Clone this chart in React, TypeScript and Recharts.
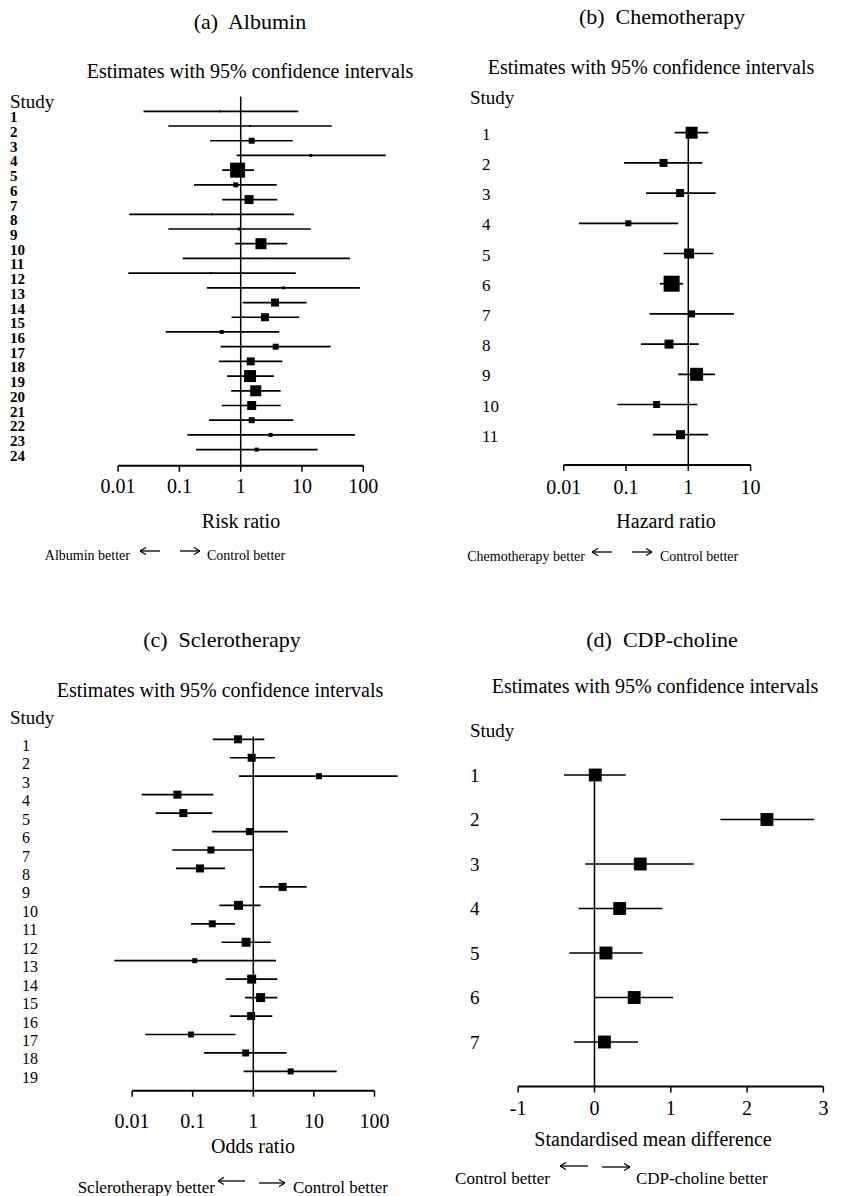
import React from "react";
import { ScatterChart, Scatter, XAxis, YAxis, ErrorBar, ReferenceLine } from "recharts";

const SERIF = "'Liberation Serif', 'Times New Roman', serif";

// (a) Albumin: risk ratios
const albuminStudies = [1, 2, 3, 4, 5, 6, 7, 8, 9, 10, 11, 12, 13, 14, 15, 16, 17, 18, 19, 20, 21, 22, 23, 24];
const albuminEst = [0.46, 1.42, 1.51, 13.9, 0.89, 0.83, 1.37, 0.34, 0.95, 2.14, 2.5, 0.33, 4.97, 3.63, 2.49, 0.49, 3.72, 1.46, 1.42, 1.76, 1.51, 1.51, 3.08, 1.82];
const albuminLow = [0.026, 0.066, 0.316, 0.86, 0.5, 0.173, 0.5, 0.0152, 0.066, 0.81, 0.113, 0.0147, 0.28, 1.08, 0.71, 0.06, 0.47, 0.44, 0.6, 0.7, 0.49, 0.304, 0.135, 0.187];
const albuminHigh = [8.7, 30.5, 7.05, 232, 1.65, 3.87, 3.95, 7.4, 13.9, 5.75, 60.8, 7.9, 88, 11.9, 9.0, 4.27, 29.4, 4.78, 3.49, 4.49, 4.49, 7.2, 73, 18];
const albuminWeight = [0.3, 0.3, 2.9, 0.7, 18.4, 2.0, 6.6, 0.3, 0.7, 9.9, 0.1, 0.3, 0.7, 5.2, 5.2, 1.3, 2.9, 5.2, 11.8, 9.9, 6.6, 2.9, 1.3, 1.3];

// (b) Chemotherapy: hazard ratios
const chemoStudies = [1, 2, 3, 4, 5, 6, 7, 8, 9, 10, 11];
const chemoEst = [1.13, 0.4, 0.74, 0.109, 1.03, 0.54, 1.13, 0.49, 1.36, 0.31, 0.75];
const chemoLow = [0.6, 0.093, 0.21, 0.0176, 0.4, 0.35, 0.24, 0.174, 0.69, 0.073, 0.27];
const chemoHigh = [2.09, 1.68, 2.75, 0.69, 2.52, 0.83, 5.4, 1.47, 2.68, 1.4, 2.09];
const chemoWeight = [13.2, 5.9, 5.9, 3.3, 9.2, 23.5, 4.5, 7.4, 15.5, 4.5, 7.4];

// (c) Sclerotherapy: odds ratios
const scleroStudies = [1, 2, 3, 4, 5, 6, 7, 8, 9, 10, 11, 12, 13, 14, 15, 16, 17, 18, 19];
const scleroEst = [0.56, 0.94, 12.1, 0.056, 0.07, 0.86, 0.2, 0.132, 3.05, 0.57, 0.21, 0.76, 0.108, 0.94, 1.32, 0.92, 0.094, 0.75, 4.14];
const scleroLow = [0.214, 0.41, 0.58, 0.0144, 0.0245, 0.209, 0.046, 0.053, 1.26, 0.275, 0.094, 0.3, 0.0051, 0.35, 0.73, 0.41, 0.0165, 0.153, 0.69];
const scleroHigh = [1.52, 2.28, 241, 0.219, 0.211, 3.69, 1.0, 0.341, 7.6, 1.32, 0.5, 1.96, 2.37, 2.49, 2.49, 2.06, 0.51, 3.55, 23.8];
const scleroWeight = [5.9, 5.9, 3.3, 5.9, 5.9, 4.5, 4.5, 5.9, 5.9, 7.4, 4.5, 7.4, 2.3, 7.4, 7.4, 5.9, 3.3, 4.5, 3.3];

// (d) CDP-choline: standardised mean differences
const cdpStudies = [1, 2, 3, 4, 5, 6, 7];
const cdpEst = [0.01, 2.26, 0.6, 0.33, 0.15, 0.52, 0.13];
const cdpLow = [-0.4, 1.65, -0.12, -0.21, -0.33, 0.0, -0.27];
const cdpHigh = [0.41, 2.88, 1.3, 0.89, 0.63, 1.03, 0.57];
const cdpWeight = [14.3, 14.3, 14.3, 14.3, 14.3, 14.3, 14.3];

const ratioTicks = [0.01, 0.1, 1, 10, 100];
const chemoTicks = [0.01, 0.1, 1, 10];
const smdTicks = [-1, 0, 1, 2, 3];

type Row = { row: number; est: number; err: [number, number]; w: number };

function buildRows(studies: number[], est: number[], low: number[], high: number[], w: number[]): Row[] {
  return studies.map((s, i) => ({ row: s, est: est[i], err: [est[i] - low[i], high[i] - est[i]], w: w[i] }));
}

interface PanelProps {
  left: number;
  top: number;
  width: number;
  height: number;
  rows: Row[];
  log: boolean;
  domain: [number, number];
  ticks: number[];
  refValue: number;
  refPx: number;
  unitPx: number;
  row0Px: number;
  rowPx: number;
  yMax: number;
  lineFrom: number;
  labelX: number;
  labelDy: number;
  labelSize: number;
  labelBold?: boolean;
  tickGap: number;
  markerK: number;
}

function ForestPanel(p: PanelProps) {
  const f = (v: number) => (p.log ? Math.log10(v) : v);
  const plotL = p.refPx + p.unitPx * (f(p.domain[0]) - f(p.refValue));
  const plotR = p.refPx + p.unitPx * (f(p.domain[1]) - f(p.refValue));
  const plotB = p.row0Px + p.yMax * p.rowPx;
  const axisH = 30;
  const yAxisW = 1;
  const margin = {
    left: plotL - p.left - yAxisW,
    right: p.left + p.width - plotR,
    top: p.row0Px - p.top,
    bottom: p.top + p.height - plotB - axisH,
  };

  const studyTick = (props: any) => (
    <text
      x={p.labelX - p.left}
      y={props.y + p.labelDy}
      dominantBaseline="central"
      fontSize={p.labelSize}
      fontFamily={SERIF}
      fontWeight={p.labelBold ? "bold" : "normal"}
      fill="#000"
    >
      {props.payload.value}
    </text>
  );

  const square = (props: any) => {
    const s = p.markerK * Math.sqrt(props.payload.w);
    return <rect x={props.cx - s / 2} y={props.cy - s / 2} width={s} height={s} fill="#000" />;
  };

  return (
    <div style={{ position: "absolute", left: p.left, top: p.top }}>
      <ScatterChart width={p.width} height={p.height} margin={margin}>
        <XAxis
          type="number"
          dataKey="est"
          scale={p.log ? "log" : "linear"}
          domain={p.domain}
          ticks={p.ticks}
          interval={0}
          axisLine={false}
          tickLine={{ stroke: "#000", strokeWidth: 1.5 }}
          tickSize={6}
          tickMargin={p.tickGap}
          height={axisH}
          tick={{ fill: "#000", fontSize: 20, fontFamily: SERIF }}
        />
        <YAxis
          type="number"
          dataKey="row"
          domain={[0, p.yMax]}
          reversed
          ticks={p.rows.map((r) => r.row)}
          interval={0}
          width={yAxisW}
          axisLine={false}
          tickLine={false}
          tick={studyTick}
        />
        <ReferenceLine
          segment={[
            { x: p.refValue, y: p.lineFrom },
            { x: p.refValue, y: p.yMax },
          ]}
          stroke="#000"
          strokeWidth={1.5}
          ifOverflow="visible"
        />
        <ReferenceLine
          segment={[
            { x: p.ticks[0], y: p.yMax },
            { x: p.ticks[p.ticks.length - 1], y: p.yMax },
          ]}
          stroke="#000"
          strokeWidth={2}
          ifOverflow="visible"
        />
        <Scatter data={p.rows} shape={square} isAnimationActive={false}>
          <ErrorBar dataKey="err" direction="x" width={0} stroke="#000" strokeWidth={1.7} />
        </Scatter>
      </ScatterChart>
    </div>
  );
}

function Label({ x, y, size, children, align = "middle" }: { x: number; y: number; size: number; children: React.ReactNode; align?: "start" | "middle" | "end" }) {
  const tx = align === "middle" ? "-50%" : align === "end" ? "-100%" : "0";
  return (
    <div
      style={{
        position: "absolute",
        left: x,
        top: y,
        transform: `translate(${tx}, -50%)`,
        fontFamily: SERIF,
        fontSize: size,
        lineHeight: 1,
        whiteSpace: "pre",
        color: "#000",
      }}
    >
      {children}
    </div>
  );
}

function Arrow({ x1, x2, y }: { x1: number; x2: number; y: number }) {
  const left = Math.min(x1, x2);
  const w = Math.abs(x2 - x1);
  const dir = x2 > x1 ? 1 : -1;
  const tip = dir > 0 ? w : 0;
  return (
    <svg style={{ position: "absolute", left, top: y - 5 }} width={w} height={10}>
      <line x1={0} y1={5} x2={w} y2={5} stroke="#000" strokeWidth={1.3} />
      <path d={`M${tip - dir * 6},1.5 L${tip},5 L${tip - dir * 6},8.5`} fill="none" stroke="#000" strokeWidth={1.2} />
    </svg>
  );
}

export default function App() {
  const albumin = buildRows(albuminStudies, albuminEst, albuminLow, albuminHigh, albuminWeight);
  const chemo = buildRows(chemoStudies, chemoEst, chemoLow, chemoHigh, chemoWeight);
  const sclero = buildRows(scleroStudies, scleroEst, scleroLow, scleroHigh, scleroWeight);
  const cdp = buildRows(cdpStudies, cdpEst, cdpLow, cdpHigh, cdpWeight);

  return (
    <div style={{ position: "absolute", left: 0, top: 0, width: 844, height: 1196, background: "#fff", overflow: "hidden" }}>
      {/* (a) */}
      <Label x={250} y={22} size={22}>(a)  Albumin</Label>
      <Label x={250} y={71} size={20}>Estimates with 95% confidence intervals</Label>
      <Label x={10} y={101} size={19} align="start">Study</Label>
      <ForestPanel
        left={0} top={0} width={422} height={500}
        rows={albumin} log domain={[0.005, 400]} ticks={ratioTicks}
        refValue={1} refPx={240.7} unitPx={61.3}
        row0Px={96.6} rowPx={14.71} yMax={25.1} lineFrom={0}
        labelX={10} labelDy={6} labelSize={15} labelBold tickGap={7} markerK={3.5}
      />
      <Label x={241} y={521} size={20}>Risk ratio</Label>
      <Label x={130} y={556} size={14} align="end">Albumin better</Label>
      <Arrow x1={160} x2={140} y={551} />
      <Arrow x1={180} x2={200} y={551} />
      <Label x={207} y={556} size={14} align="start">Control better</Label>

      {/* (b) */}
      <Label x={662} y={17} size={22}>(b)  Chemotherapy</Label>
      <Label x={651} y={67} size={20}>Estimates with 95% confidence intervals</Label>
      <Label x={470} y={97} size={19} align="start">Study</Label>
      <ForestPanel
        left={422} top={0} width={422} height={500}
        rows={chemo} log domain={[0.004, 30]} ticks={chemoTicks}
        refValue={1} refPx={688.3} unitPx={62.3}
        row0Px={102.5} rowPx={30.2} yMax={12} lineFrom={0.85}
        labelX={482} labelDy={1.5} labelSize={17} tickGap={9} markerK={3.3}
      />
      <Label x={666} y={521} size={20}>Hazard ratio</Label>
      <Label x={585} y={557} size={14} align="end">Chemotherapy better</Label>
      <Arrow x1={612} x2={592} y={552} />
      <Arrow x1={632} x2={652} y={552} />
      <Label x={660} y={557} size={14} align="start">Control better</Label>

      {/* (c) */}
      <Label x={222} y={640} size={22}>(c)  Sclerotherapy</Label>
      <Label x={220} y={690} size={20}>Estimates with 95% confidence intervals</Label>
      <Label x={10} y={717} size={19} align="start">Study</Label>
      <ForestPanel
        left={0} top={600} width={422} height={596}
        rows={sclero} log domain={[0.004, 400]} ticks={ratioTicks}
        refValue={1} refPx={253.3} unitPx={60.6}
        row0Px={720.85} rowPx={18.45} yMax={20.05} lineFrom={0.85}
        labelX={22} labelDy={6} labelSize={16} tickGap={17} markerK={3.3}
      />
      <Label x={253} y={1146} size={20}>Odds ratio</Label>
      <Label x={215} y={1187} size={17} align="end">Sclerotherapy better</Label>
      <Arrow x1={245} x2={218} y={1181} />
      <Arrow x1={259} x2={285} y={1183} />
      <Label x={293} y={1187} size={17} align="start">Control better</Label>

      {/* (d) */}
      <Label x={662} y={640} size={22}>(d)  CDP-choline</Label>
      <Label x={655} y={686} size={20}>Estimates with 95% confidence intervals</Label>
      <Label x={470} y={730} size={19} align="start">Study</Label>
      <ForestPanel
        left={422} top={600} width={422} height={596}
        rows={cdp} log={false} domain={[-1.2, 3.2]} ticks={smdTicks}
        refValue={0} refPx={594.5} unitPx={76.3}
        row0Px={730.5} rowPx={44.5} yMax={8} lineFrom={0.9}
        labelX={470} labelDy={0} labelSize={19} tickGap={8} markerK={3.4}
      />
      <Label x={653} y={1139} size={20}>Standardised mean difference</Label>
      <Label x={550} y={1178} size={17} align="end">Control better</Label>
      <Arrow x1={588} x2={560} y={1166} />
      <Arrow x1={602} x2={630} y={1167} />
      <Label x={636} y={1178} size={17} align="start">CDP-choline better</Label>
    </div>
  );
}
